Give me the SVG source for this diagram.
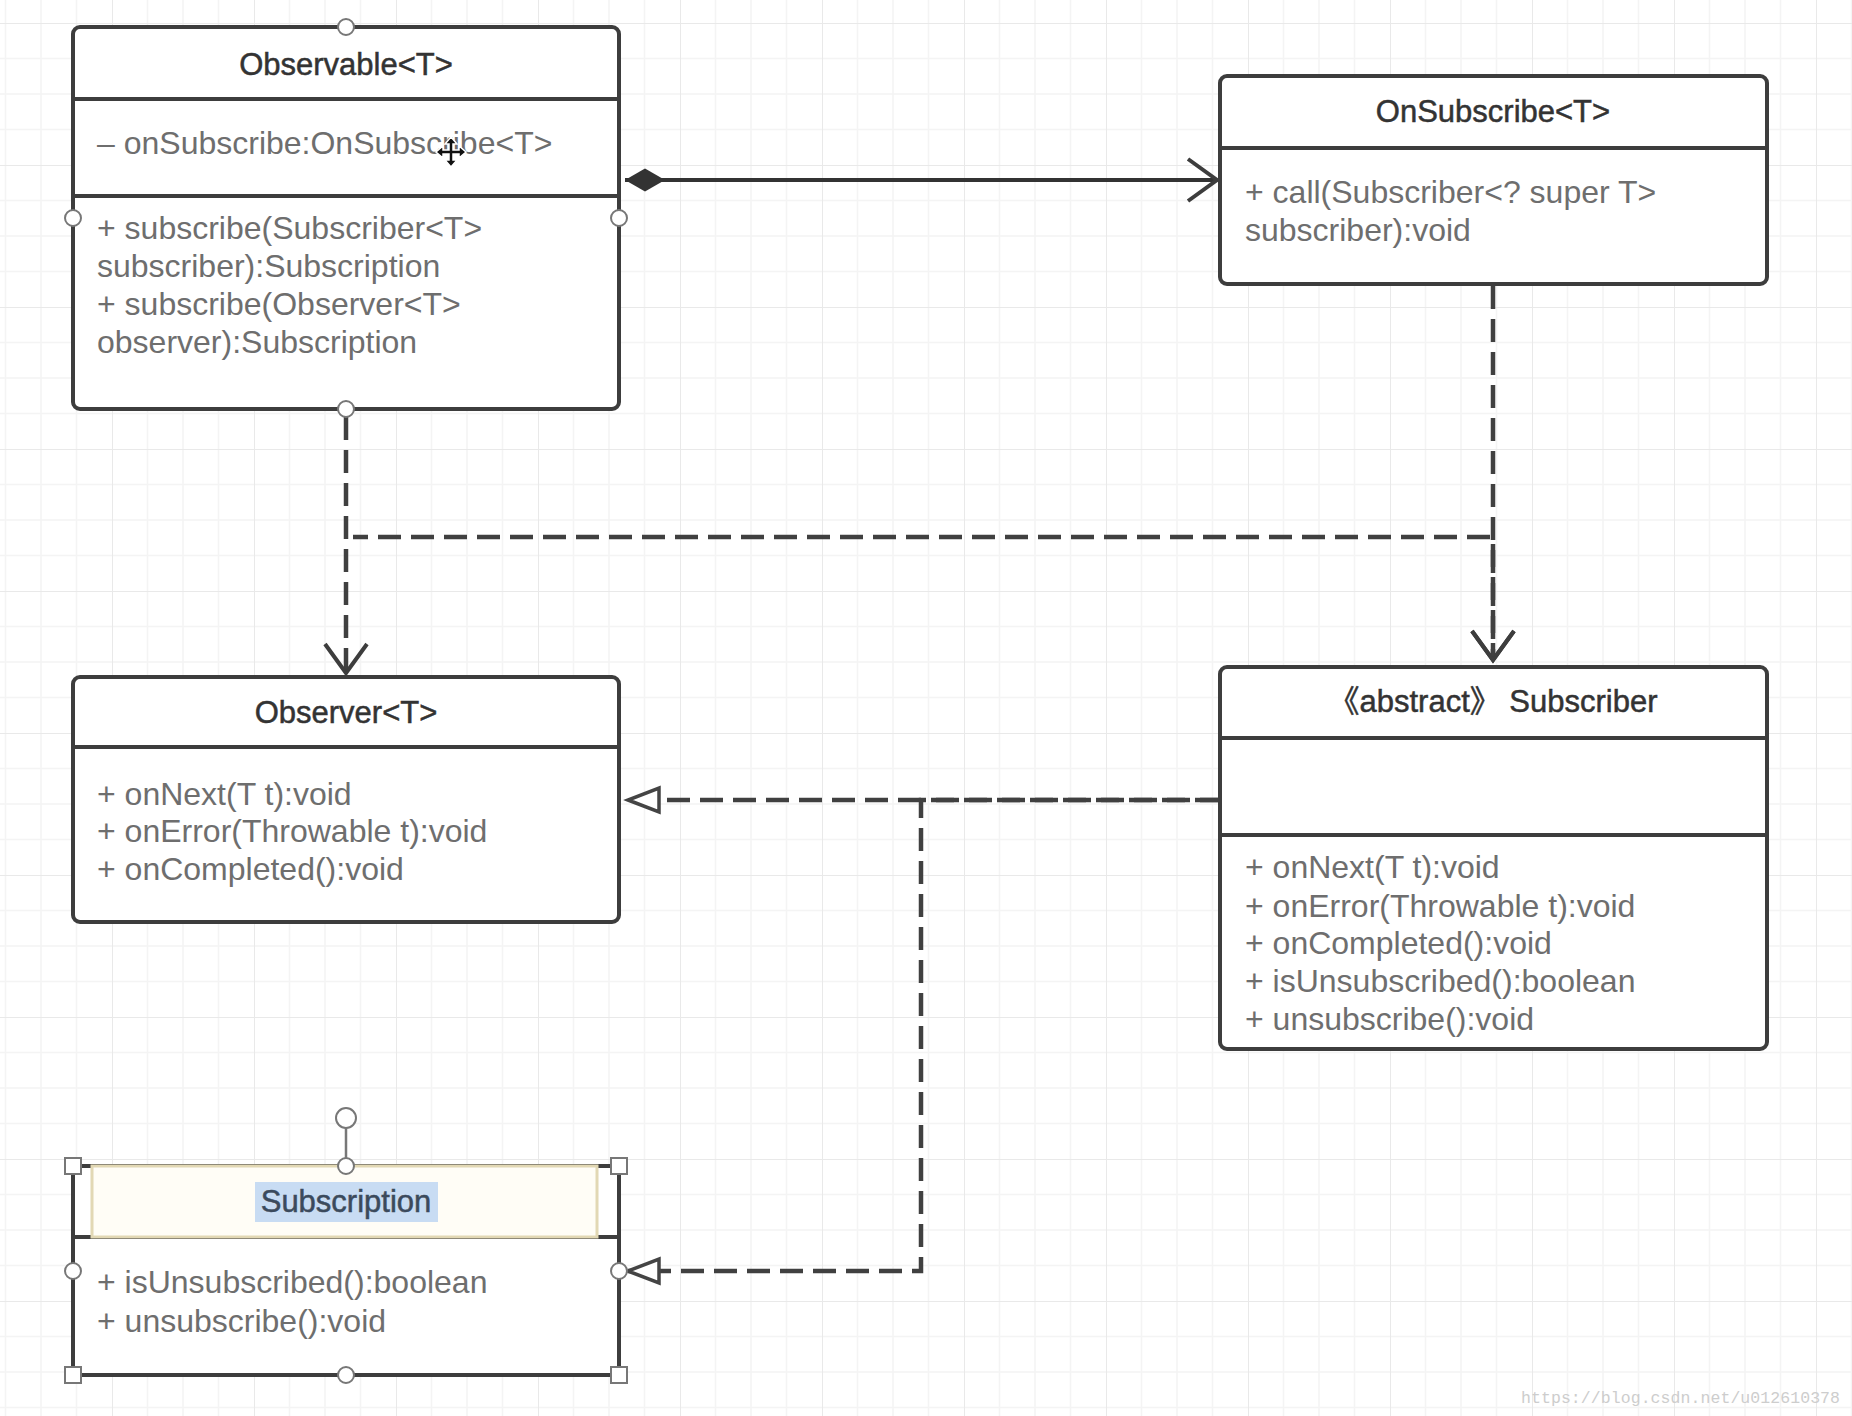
<svg xmlns="http://www.w3.org/2000/svg" width="1852" height="1416" viewBox="0 0 1852 1416">
<style>
.box{fill:#fff;stroke:#3d3d3d;stroke-width:4}
.div{stroke:#3d3d3d;stroke-width:4}
.title{font-family:"Liberation Sans","Noto Sans CJK SC",sans-serif;font-size:31px;fill:#333;stroke:#333;stroke-width:0.5;text-anchor:middle}
.mem{font-family:"Liberation Sans",sans-serif;font-size:32px;fill:#6e6e6e}
.dash{fill:none;stroke:#404040;stroke-width:4.5;stroke-dasharray:23 10}
.solid{fill:none;stroke:#333;stroke-width:4}
.hdl{fill:#fff;stroke:#777;stroke-width:2}
</style>
<defs>
<pattern id="grid" patternUnits="userSpaceOnUse" x="112" y="23" width="142" height="142">
<path d="M35.5,0V142M71,0V142M106.5,0V142M0,35.5H142M0,71H142M0,106.5H142" stroke="#f4f4f4" stroke-width="1.5" fill="none"/>
<path d="M0,0V142M0,0H142" stroke="#e9e9e9" stroke-width="2" fill="none"/>
</pattern>
<marker id="open" markerUnits="userSpaceOnUse" markerWidth="80" markerHeight="80" viewBox="-40 -40 80 80" refX="0" refY="0" orient="auto">
<path d="M-29,-21 L0,0 L-29,21" fill="none" stroke="#3d3d3d" stroke-width="4"/>
</marker>
<marker id="tri" markerUnits="userSpaceOnUse" markerWidth="80" markerHeight="80" viewBox="-40 -40 80 80" refX="0" refY="0" orient="auto">
<path d="M0,0 L-31,-12 L-31,12 Z" fill="#fff" stroke="#444" stroke-width="3.5"/>
</marker>
<marker id="diamond" markerUnits="userSpaceOnUse" markerWidth="100" markerHeight="60" viewBox="-10 -30 100 60" refX="0" refY="0" orient="auto">
<path d="M0,0 L20,-11.5 L40,0 L20,11.5 Z" fill="#333"/>
</marker>
</defs>
<rect width="1852" height="1416" fill="#fff"/>
<rect width="1852" height="1416" fill="url(#grid)"/>

<g id="observable">
<rect class="box" x="73" y="27" width="546" height="382" rx="7"/>
<line class="div" x1="73" y1="99" x2="619" y2="99"/>
<line class="div" x1="73" y1="196" x2="619" y2="196"/>
<text class="title" x="346" y="75">Observable&lt;T&gt;</text>
<text class="mem" x="97" y="154">– onSubscribe:OnSubscribe&lt;T&gt;</text>
<text class="mem" x="97" y="239">+ subscribe(Subscriber&lt;T&gt;</text>
<text class="mem" x="97" y="277">subscriber):Subscription</text>
<text class="mem" x="97" y="315">+ subscribe(Observer&lt;T&gt;</text>
<text class="mem" x="97" y="353">observer):Subscription</text>
</g>

<g id="onsubscribe">
<rect class="box" x="1220" y="76" width="547" height="208" rx="7"/>
<line class="div" x1="1220" y1="148" x2="1767" y2="148"/>
<text class="title" x="1493" y="122">OnSubscribe&lt;T&gt;</text>
<text class="mem" x="1245" y="203">+ call(Subscriber&lt;? super T&gt;</text>
<text class="mem" x="1245" y="241">subscriber):void</text>
</g>

<g id="observer">
<rect class="box" x="73" y="677" width="546" height="245" rx="7"/>
<line class="div" x1="73" y1="747" x2="619" y2="747"/>
<text class="title" x="346" y="723">Observer&lt;T&gt;</text>
<text class="mem" x="97" y="805">+ onNext(T t):void</text>
<text class="mem" x="97" y="842">+ onError(Throwable t):void</text>
<text class="mem" x="97" y="880">+ onCompleted():void</text>
</g>

<g id="subscriber">
<rect class="box" x="1220" y="667" width="547" height="382" rx="7"/>
<line class="div" x1="1220" y1="738" x2="1767" y2="738"/>
<line class="div" x1="1220" y1="835" x2="1767" y2="835"/>
<text class="title" x="1493" y="712">《abstract》 Subscriber</text>
<text class="mem" x="1245" y="878">+ onNext(T t):void</text>
<text class="mem" x="1245" y="917">+ onError(Throwable t):void</text>
<text class="mem" x="1245" y="954">+ onCompleted():void</text>
<text class="mem" x="1245" y="992">+ isUnsubscribed():boolean</text>
<text class="mem" x="1245" y="1030">+ unsubscribe():void</text>
</g>

<g id="subscription">
<rect class="box" x="73" y="1166" width="546" height="209" rx="3"/>
<line class="div" x1="73" y1="1237" x2="619" y2="1237"/>
<rect x="92" y="1166" width="505" height="71" fill="#fffdf6" stroke="#e2d8b4" stroke-width="3"/>
<rect x="255" y="1182" width="183" height="40" fill="#c8dcf3"/>
<text class="title" x="346" y="1212" style="fill:#3b4a5c;stroke:#3b4a5c">Subscription</text>
<text class="mem" x="97" y="1293">+ isUnsubscribed():boolean</text>
<text class="mem" x="97" y="1332">+ unsubscribe():void</text>
</g>

<g id="connectors">
<path class="solid" d="M625,180 H1217" marker-start="url(#diamond)" marker-end="url(#open)"/>
<path class="dash" d="M346,417 V673" marker-end="url(#open)"/>
<path class="dash" d="M353,537 H1493 V660" style="stroke-dashoffset:8" marker-end="url(#open)"/>
<path class="dash" d="M1493,286 V660" marker-end="url(#open)"/>
<path class="dash" d="M1218,800 H628" marker-end="url(#tri)"/>
<path class="dash" d="M1218,800 H921 V1271 H628" style="stroke-dashoffset:5" marker-end="url(#tri)"/>
</g>

<g id="handles">
<circle class="hdl" cx="346" cy="27" r="8"/>
<circle class="hdl" cx="73" cy="218" r="8"/>
<circle class="hdl" cx="619" cy="218" r="8"/>
<circle class="hdl" cx="346" cy="409" r="8"/>
<line x1="346" y1="1128" x2="346" y2="1158" stroke="#777" stroke-width="2.5"/>
<circle class="hdl" cx="346" cy="1118" r="10"/>
<circle class="hdl" cx="346" cy="1166" r="8"/>
<circle class="hdl" cx="346" cy="1375" r="8"/>
<circle class="hdl" cx="73" cy="1271" r="8"/>
<circle class="hdl" cx="619" cy="1271" r="8"/>
<rect class="hdl" x="65" y="1158" width="16" height="16"/>
<rect class="hdl" x="611" y="1158" width="16" height="16"/>
<rect class="hdl" x="65" y="1367" width="16" height="16"/>
<rect class="hdl" x="611" y="1367" width="16" height="16"/>
</g>

<path id="cursor" transform="translate(451,152)" d="M0,-15 L-6,-8 L-2,-8 L-2,-2 L-8,-2 L-8,-6 L-15,0 L-8,6 L-8,2 L-2,2 L-2,8 L-6,8 L0,15 L6,8 L2,8 L2,2 L8,2 L8,6 L15,0 L8,-6 L8,-2 L2,-2 L2,-8 L6,-8 Z" fill="#111" stroke="#fff" stroke-width="1.5"/>

<text x="1521" y="1403" font-family="Liberation Mono, monospace" font-size="16.5" fill="#cdcdcd" textLength="319">https://blog.csdn.net/u012610378</text>
</svg>
